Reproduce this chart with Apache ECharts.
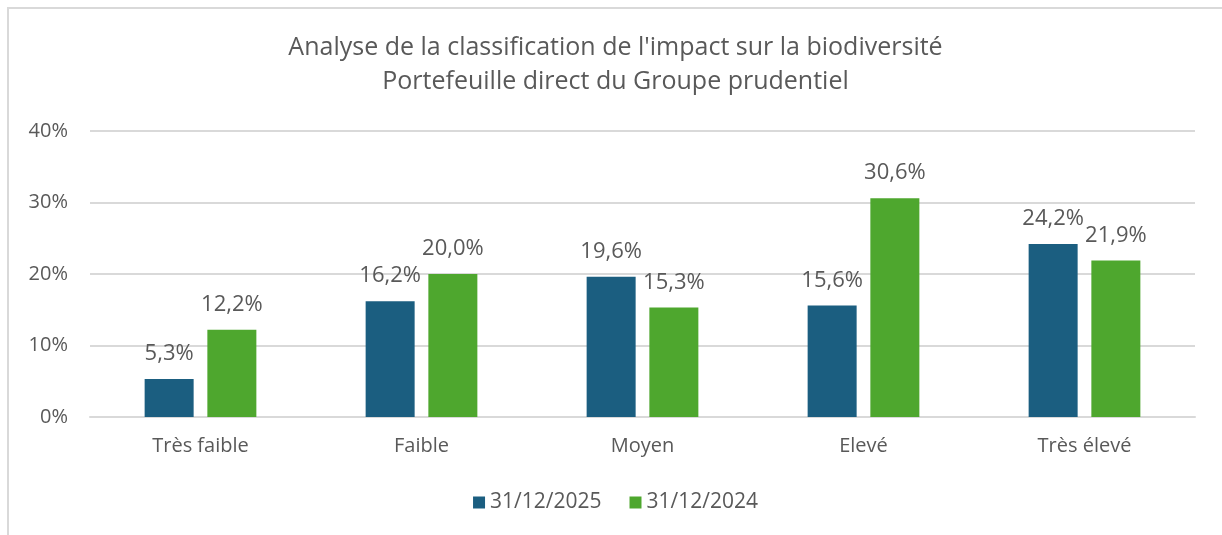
<!DOCTYPE html>
<html>
<head>
<meta charset="utf-8">
<script src="https://cdn.jsdelivr.net/npm/echarts@6/dist/echarts.min.js"></script>
<style>
  html, body { margin: 0; padding: 0; background: #fff; }
  #main { position: absolute; left: 7px; top: 7px; width: 1215px; height: 528px;
          border-top: 2px solid #d9d9d9; border-left: 2px solid #d9d9d9; box-sizing: border-box; }
</style>
</head>
<body>
<div id="main"></div>
<script>
const categories = ['Très faible', 'Faible', 'Moyen', 'Elevé', 'Très élevé']
const serie2025 = [5.3, 16.2, 19.6, 15.6, 24.2]
const serie2024 = [12.2, 20.0, 15.3, 30.6, 21.9]
const legendNames = ['31/12/2025', '31/12/2024']

const chart = echarts.init(document.getElementById('main'))
const txt = '#595959'
const fontFam = '"Open Sans", sans-serif'
const fmt = v => v.toFixed(1).replace('.', ',') + '%'

const option = {
  animation: false,
  textStyle: { fontFamily: fontFam },
  title: {
    text: "Analyse de la classification de l'impact sur la biodiversité\nPortefeuille direct du Groupe prudentiel",
    left: 'center',
    top: 17,
    textStyle: { color: txt, fontSize: 25, fontWeight: 'normal', lineHeight: 34, fontFamily: fontFam }
  },
  legend: {
    data: legendNames,
    bottom: 17,
    left: 'center',
    icon: 'rect',
    itemWidth: 12,
    itemHeight: 12,
    itemGap: 28,
    textStyle: { color: txt, fontSize: 21, fontFamily: fontFam }
  },
  grid: { left: 81, right: 27, top: 122, bottom: 118, containLabel: false },
  xAxis: {
    type: 'category',
    data: categories,
    axisLine: { lineStyle: { color: '#d9d9d9', width: 2 } },
    axisTick: { show: false },
    axisLabel: { color: txt, fontSize: 20, margin: 19 }
  },
  yAxis: {
    type: 'value',
    min: 0,
    max: 40,
    interval: 10,
    axisLabel: { color: txt, fontSize: 20, margin: 22, formatter: v => v + '%' },
    splitLine: { lineStyle: { color: '#d9d9d9', width: 2 } },
    axisLine: { show: false },
    axisTick: { show: false }
  },
  series: [
    {
      name: legendNames[0],
      type: 'bar',
      data: serie2025,
      barWidth: 49,
      barGap: '28%',
      itemStyle: { color: '#1b5e80' },
      label: { show: true, position: 'top', distance: 14, color: txt, fontSize: 22, formatter: p => fmt(p.value) }
    },
    {
      name: legendNames[1],
      type: 'bar',
      data: serie2024,
      barWidth: 49,
      itemStyle: { color: '#4ea72e' },
      label: { show: true, position: 'top', distance: 14, color: txt, fontSize: 22, formatter: p => fmt(p.value) }
    }
  ]
}
chart.setOption(option)
</script>
</body>
</html>
